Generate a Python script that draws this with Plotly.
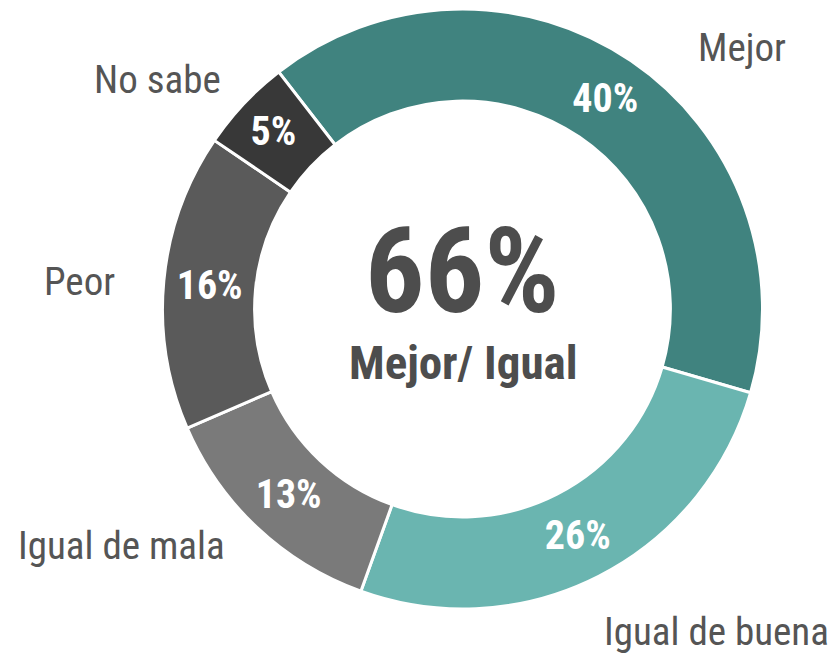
import plotly.graph_objects as go

categories = ["Mejor", "Igual de buena", "Igual de mala", "Peor", "No sabe"]
values = [40, 26, 13, 16, 5]
colors = ["#40837f", "#6ab5b0", "#7a7a7a", "#5a5a5a", "#383838"]
center_value = "66%"
center_label = "Mejor/ Igual"

FONT = "Roboto Condensed, Liberation Sans, sans-serif"
# The page body has an 8px default margin; work in reference-pixel coordinates and shift.
OFF = 8
W, H = 838 - OFF, 656 - OFF
cx, cy, R = 462.5 - OFF, 309 - OFF, 300

fig = go.Figure(go.Pie(
    labels=categories,
    values=values,
    sort=False,
    direction="clockwise",
    rotation=-37.8,
    hole=0.693,
    marker=dict(colors=colors, line=dict(color="white", width=3)),
    texttemplate="%{value}%",
    textposition="inside",
    insidetextorientation="horizontal",
    textfont=dict(family=FONT, size=40, color="white", weight="bold"),
    showlegend=False,
    hoverinfo="label+percent",
    domain=dict(x=[(cx - R) / W, (cx + R) / W], y=[(H - cy - R) / H, (H - cy + R) / H]),
))

label_pos = {
    "Mejor": (742, 48),
    "Igual de buena": (716, 632),
    "Igual de mala": (121, 546),
    "Peor": (79, 282),
    "No sabe": (157, 80),
}


def px(x, y):
    return (x - OFF) / W, 1 - (y - OFF) / H


annotations = []
for c in categories:
    x, y = px(*label_pos[c])
    annotations.append(dict(x=x, y=y, xref="paper", yref="paper", text=c, showarrow=False,
                            xanchor="center", yanchor="middle",
                            font=dict(family=FONT, size=39, color="#555555")))
x, y = px(462.5, 272)
annotations.append(dict(x=x, y=y, xref="paper", yref="paper", text=center_value, showarrow=False,
                        xanchor="center", yanchor="middle",
                        font=dict(family=FONT, size=118, color="#4d4d4d", weight="bold")))
x, y = px(462.5, 362)
annotations.append(dict(x=x, y=y, xref="paper", yref="paper", text=center_label, showarrow=False,
                        xanchor="center", yanchor="middle",
                        font=dict(family=FONT, size=47, color="#4d4d4d", weight="bold")))

fig.update_layout(
    width=W, height=H,
    margin=dict(l=0, r=0, t=0, b=0),
    paper_bgcolor="white", plot_bgcolor="white",
    annotations=annotations,
)
fig.write_html("out.html")
